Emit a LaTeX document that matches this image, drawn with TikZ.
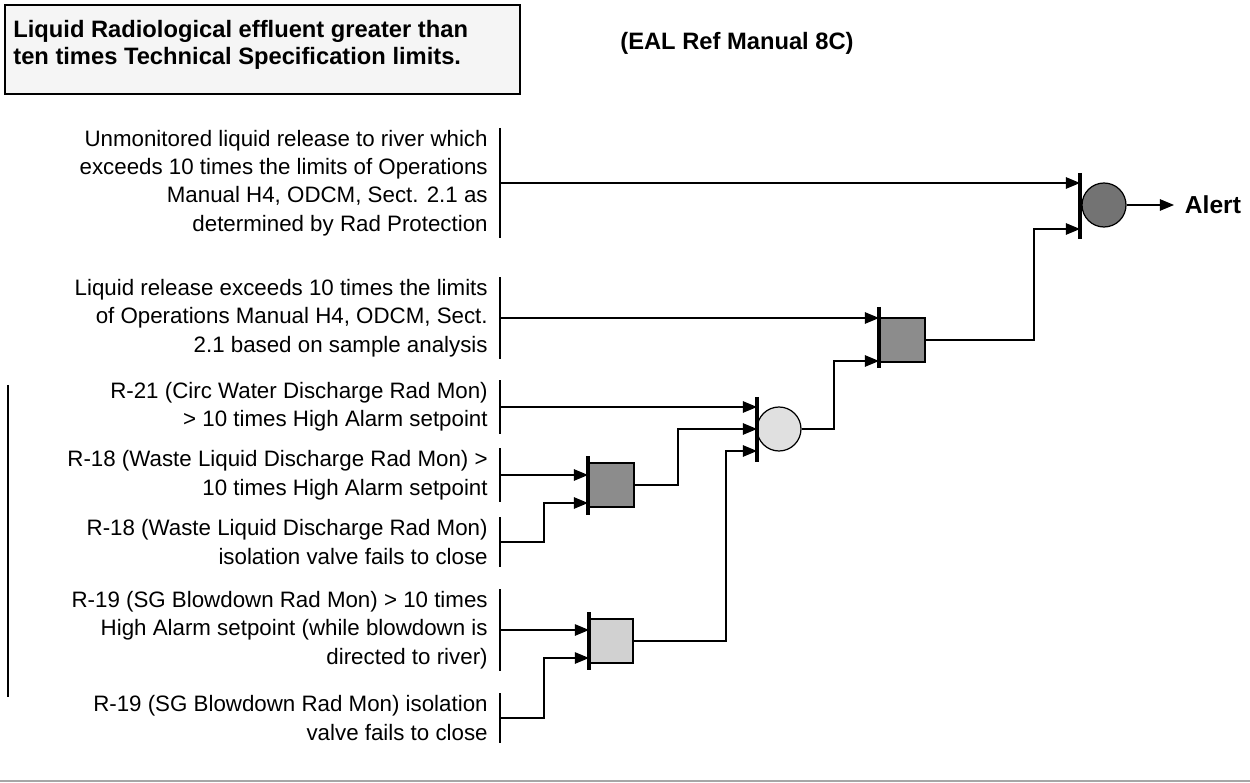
\documentclass[tikz,border=0pt]{standalone}
\usepackage{fontspec}
\setmainfont{Liberation Sans}
\usetikzlibrary{arrows.meta,calc}

\begin{document}
\begin{tikzpicture}[x=0.02cm,y=-0.02cm,
  wire/.style={line width=0.7pt},
  flow/.style={wire,-{Triangle[length=8pt,width=6.5pt]}},
  gatebar/.style={line width=2pt},
  cond/.style={anchor=east,align=right,inner xsep=0pt,inner ysep=1pt,font=\fontsize{12.7}{16.2}\selectfont},
  orgate/.style={circle,draw,line width=0.7pt,minimum size=0.88cm,inner sep=0pt},
  andgate/.style={rectangle,draw,line width=0.7pt,minimum width=0.92cm,minimum height=0.88cm,inner sep=0pt},
  heading/.style={inner sep=0pt,font=\bfseries\fontsize{13.5}{15}\selectfont}]
\useasboundingbox (0,0) rectangle (1250,783);

% title and reference
\draw[line width=0.6pt,fill=black!4] (5,5) rectangle (520,94);
\node[heading,anchor=west,align=left] (title) at (13,45) {Liquid Radiological effluent greater than\\ten times Technical Specification limits.};
\node[heading,anchor=west] (ref) at (620,43) {(EAL Ref Manual 8C)};

% conditions
\node[cond] (u) at (488,183) {Unmonitored liquid release to river which\\exceeds 10 times the limits of Operations\\Manual H4, ODCM, Sect. 2.1 as\\determined by Rad Protection};
\node[cond] (l) at (488,318) {Liquid release exceeds 10 times the limits\\of Operations Manual H4, ODCM, Sect.\\2.1 based on sample analysis};
\node[cond] (r21) at (488,407) {R-21 (Circ Water Discharge Rad Mon)\\> 10 times High Alarm setpoint};
\node[cond] (r18a) at (488,475) {R-18 (Waste Liquid Discharge Rad Mon) >\\10 times High Alarm setpoint};
\node[cond] (r18b) at (488,542) {R-18 (Waste Liquid Discharge Rad Mon)\\isolation valve fails to close};
\node[cond] (r19a) at (488,630) {R-19 (SG Blowdown Rad Mon) > 10 times\\High Alarm setpoint (while blowdown is\\directed to river)};
\node[cond] (r19b) at (488,718) {R-19 (SG Blowdown Rad Mon) isolation\\valve fails to close};
\foreach \n in {u,l,r21,r18a,r18b,r19a,r19b} {
  \draw[wire] ($(\n.north east)+(12,0)$) -- ($(\n.south east)+(12,0)$);
  \coordinate (\n-b) at ($(\n.east)+(12,0)$);
}
\draw[line width=1.2pt] (8,385) -- (8,697);

% gates
\node[orgate,fill=black!55] (g1) at (1104,205) {};
\draw[gatebar] (1080,173) -- (1080,239);
\coordinate (g1a) at (1080,183);
\coordinate (g1b) at (1080,229);

\node[andgate,fill=black!45] (g2) at (902,340) {};
\draw[gatebar] (879,307) -- (879,368);
\coordinate (g2a) at (879,318);
\coordinate (g2b) at (879,361);

\node[orgate,fill=black!12] (g3) at (779,429) {};
\draw[gatebar] (757,397) -- (757,462);
\coordinate (g3a) at (757,407);
\coordinate (g3b) at (757,429);
\coordinate (g3c) at (757,451);

\node[andgate,fill=black!45] (g4) at (611,485) {};
\draw[gatebar] (588,456) -- (588,515);
\coordinate (g4a) at (588,475);
\coordinate (g4b) at (588,503);

\node[andgate,fill=black!18,minimum width=0.88cm] (g5) at (611,641) {};
\draw[gatebar] (589,612) -- (589,670);
\coordinate (g5a) at (589,630);
\coordinate (g5b) at (589,658);

\node[heading,anchor=west,inner xsep=6pt,font=\bfseries\fontsize{14}{16}\selectfont] (alert) at (1174,205) {Alert};

% connectors
\draw[flow] (u-b) -- (g1a);
\draw[flow] (l-b) -- (g2a);
\draw[flow] (r21-b) -- (g3a);
\draw[flow] (r18a-b) -- (g4a);
\draw[flow] (r18b-b) -| ($(g4b)+(-44,0)$) -- (g4b);
\draw[flow] (r19a-b) -- (g5a);
\draw[flow] (r19b-b) -| ($(g5b)+(-45,0)$) -- (g5b);
\draw[flow] (g4) -| ($(g3b)+(-79,0)$) -- (g3b);
\draw[flow] (g5) -| ($(g3c)+(-31,0)$) -- (g3c);
\draw[flow] (g3) -| ($(g2b)+(-45,0)$) -- (g2b);
\draw[flow] (g2) -| ($(g1b)+(-46,0)$) -- (g1b);
\draw[flow] (g1) -- (alert);

% page rule
\draw[black!35,line width=1pt] (0,781) -- (1250,781);
\end{tikzpicture}
\end{document}
